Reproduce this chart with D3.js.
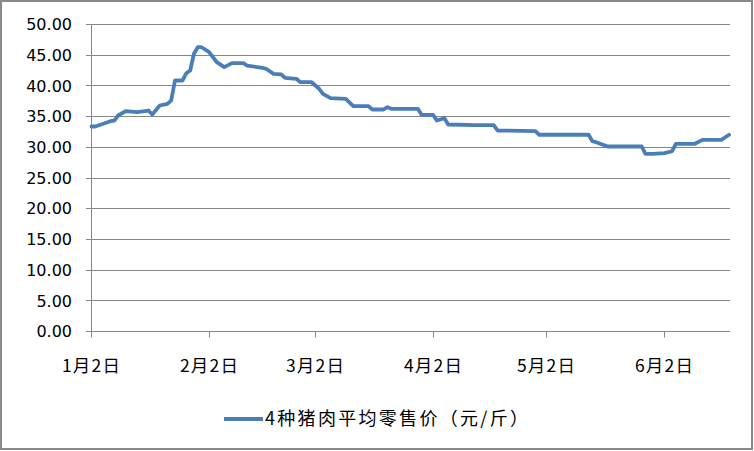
<!DOCTYPE html>
<html>
<head>
<meta charset="utf-8">
<script src="https://cdn.jsdelivr.net/npm/d3@7"></script>
<style>
  body { margin: 0; background: #fff; }
  svg { display: block; }
</style>
</head>
<body>
<svg id="chart" width="754" height="451"></svg>
<script>
// daily price points (year 2014, month-day)
const dates = ['01-02','01-03','01-07','01-08','01-09','01-11','01-14','01-16','01-17','01-18',
  '01-20','01-22','01-23','01-24','01-26','01-27','01-28','01-29','01-30','01-31',
  '02-02','02-04','02-06','02-08','02-11','02-12','02-16','02-17','02-19','02-21',
  '02-22','02-25','02-26','03-01','03-03','03-04','03-06','03-10','03-12','03-16',
  '03-17','03-20','03-21','03-22','03-29','03-30','04-02','04-03','04-05','04-06',
  '04-13','04-18','04-19','04-29','04-30','05-13','05-14','05-15','05-18','05-27',
  '05-28','05-30','06-02','06-04','06-05','06-10','06-12','06-17','06-19'];
const prices = [33.39,33.39,34.25,34.36,35.18,35.88,35.72,35.88,35.99,35.34,
  36.81,37.08,37.62,40.88,40.88,42.07,42.51,45.23,46.30,46.30,
  45.49,43.86,43.05,43.70,43.70,43.32,42.95,42.79,41.97,41.86,
  41.32,41.16,40.60,40.60,39.53,38.71,38.00,37.90,36.69,36.69,
  36.16,36.16,36.53,36.27,36.27,35.29,35.29,34.36,34.74,33.71,
  33.60,33.60,32.74,32.62,32.04,32.04,30.99,30.83,30.13,30.13,
  28.94,28.94,29.04,29.36,30.57,30.57,31.22,31.22,32.04];
const yTicks = [0,5,10,15,20,25,30,35,40,45,50];
const xTickDates = ['01-02','02-02','03-02','04-02','05-02','06-02'];
const xTickLabels = ['1月2日','2月2日','3月2日','4月2日','5月2日','6月2日'];
const seriesName = '4种猪肉平均零售价（元/斤）';

const parseDay = s => new Date(Date.UTC(2014, +s.slice(0,2) - 1, +s.slice(3)));
const data = dates.map((d, i) => ({ date: parseDay(d), value: prices[i] }));

const svg = d3.select('#chart');
const gridColor = '#868686';

// outer chart border
svg.append('rect')
  .attr('x', 1).attr('y', 1).attr('width', 751).attr('height', 448)
  .attr('fill', '#fff').attr('stroke', '#898989').attr('stroke-width', 2);

const x = d3.scaleUtc()
  .domain([parseDay('01-02'), parseDay('06-19')])
  .range([91.5, 729]);
const y = d3.scaleLinear().domain([0, 50]).range([331.5, 24.5]);
const snap = v => Math.round(v - 0.5) + 0.5;

// horizontal gridlines + y tick marks
const yg = svg.append('g');
yg.selectAll('line.grid').data(yTicks).join('line')
  .attr('x1', 86).attr('x2', 730)
  .attr('y1', d => snap(y(d))).attr('y2', d => snap(y(d)))
  .attr('stroke', gridColor).attr('stroke-width', 1);
yg.selectAll('text').data(yTicks).join('text')
  .attr('x', 72).attr('y', d => y(d))
  .attr('dy', '0.36em')
  .attr('text-anchor', 'end')
  .attr('font-family', 'DejaVu Sans, sans-serif')
  .attr('font-size', 16)
  .attr('fill', '#000')
  .text(d => d.toFixed(2));

// y axis line
svg.append('line')
  .attr('x1', 91.5).attr('x2', 91.5).attr('y1', snap(y(50))).attr('y2', snap(y(0)))
  .attr('stroke', gridColor);

// x ticks
const xg = svg.append('g');
xTickDates.forEach((d, i) => {
  const px = snap(x(parseDay(d)));
  xg.append('line')
    .attr('x1', px).attr('x2', px).attr('y1', snap(y(0))).attr('y2', snap(y(0)) + 6)
    .attr('stroke', gridColor);
  xg.append('text')
    .attr('x', px).attr('y', 366)
    .attr('dy', '0.36em')
    .attr('text-anchor', 'middle')
    .attr('font-family', '"Noto Sans CJK SC", sans-serif')
    .attr('font-size', 17.5)
    .attr('letter-spacing', 1.2)
    .text(xTickLabels[i]);
});

// price line
const line = d3.line()
  .x(d => x(d.date))
  .y(d => y(d.value));
svg.append('path')
  .datum(data)
  .attr('d', line)
  .attr('fill', 'none')
  .attr('stroke', '#4a7ebb')
  .attr('stroke-width', 3.8)
  .attr('stroke-linejoin', 'round')
  .attr('stroke-linecap', 'round');

// legend
const lg = svg.append('g');
lg.append('line')
  .attr('x1', 224).attr('x2', 263).attr('y1', 419).attr('y2', 419)
  .attr('stroke', '#4a7ebb').attr('stroke-width', 3.8);
lg.append('text')
  .attr('x', 265).attr('y', 419)
  .attr('dy', '0.36em')
  .attr('font-family', '"Noto Sans CJK SC", sans-serif')
  .attr('font-size', 18)
  .attr('textLength', 263)
  .attr('lengthAdjust', 'spacing')
  .text(seriesName);
</script>
</body>
</html>
